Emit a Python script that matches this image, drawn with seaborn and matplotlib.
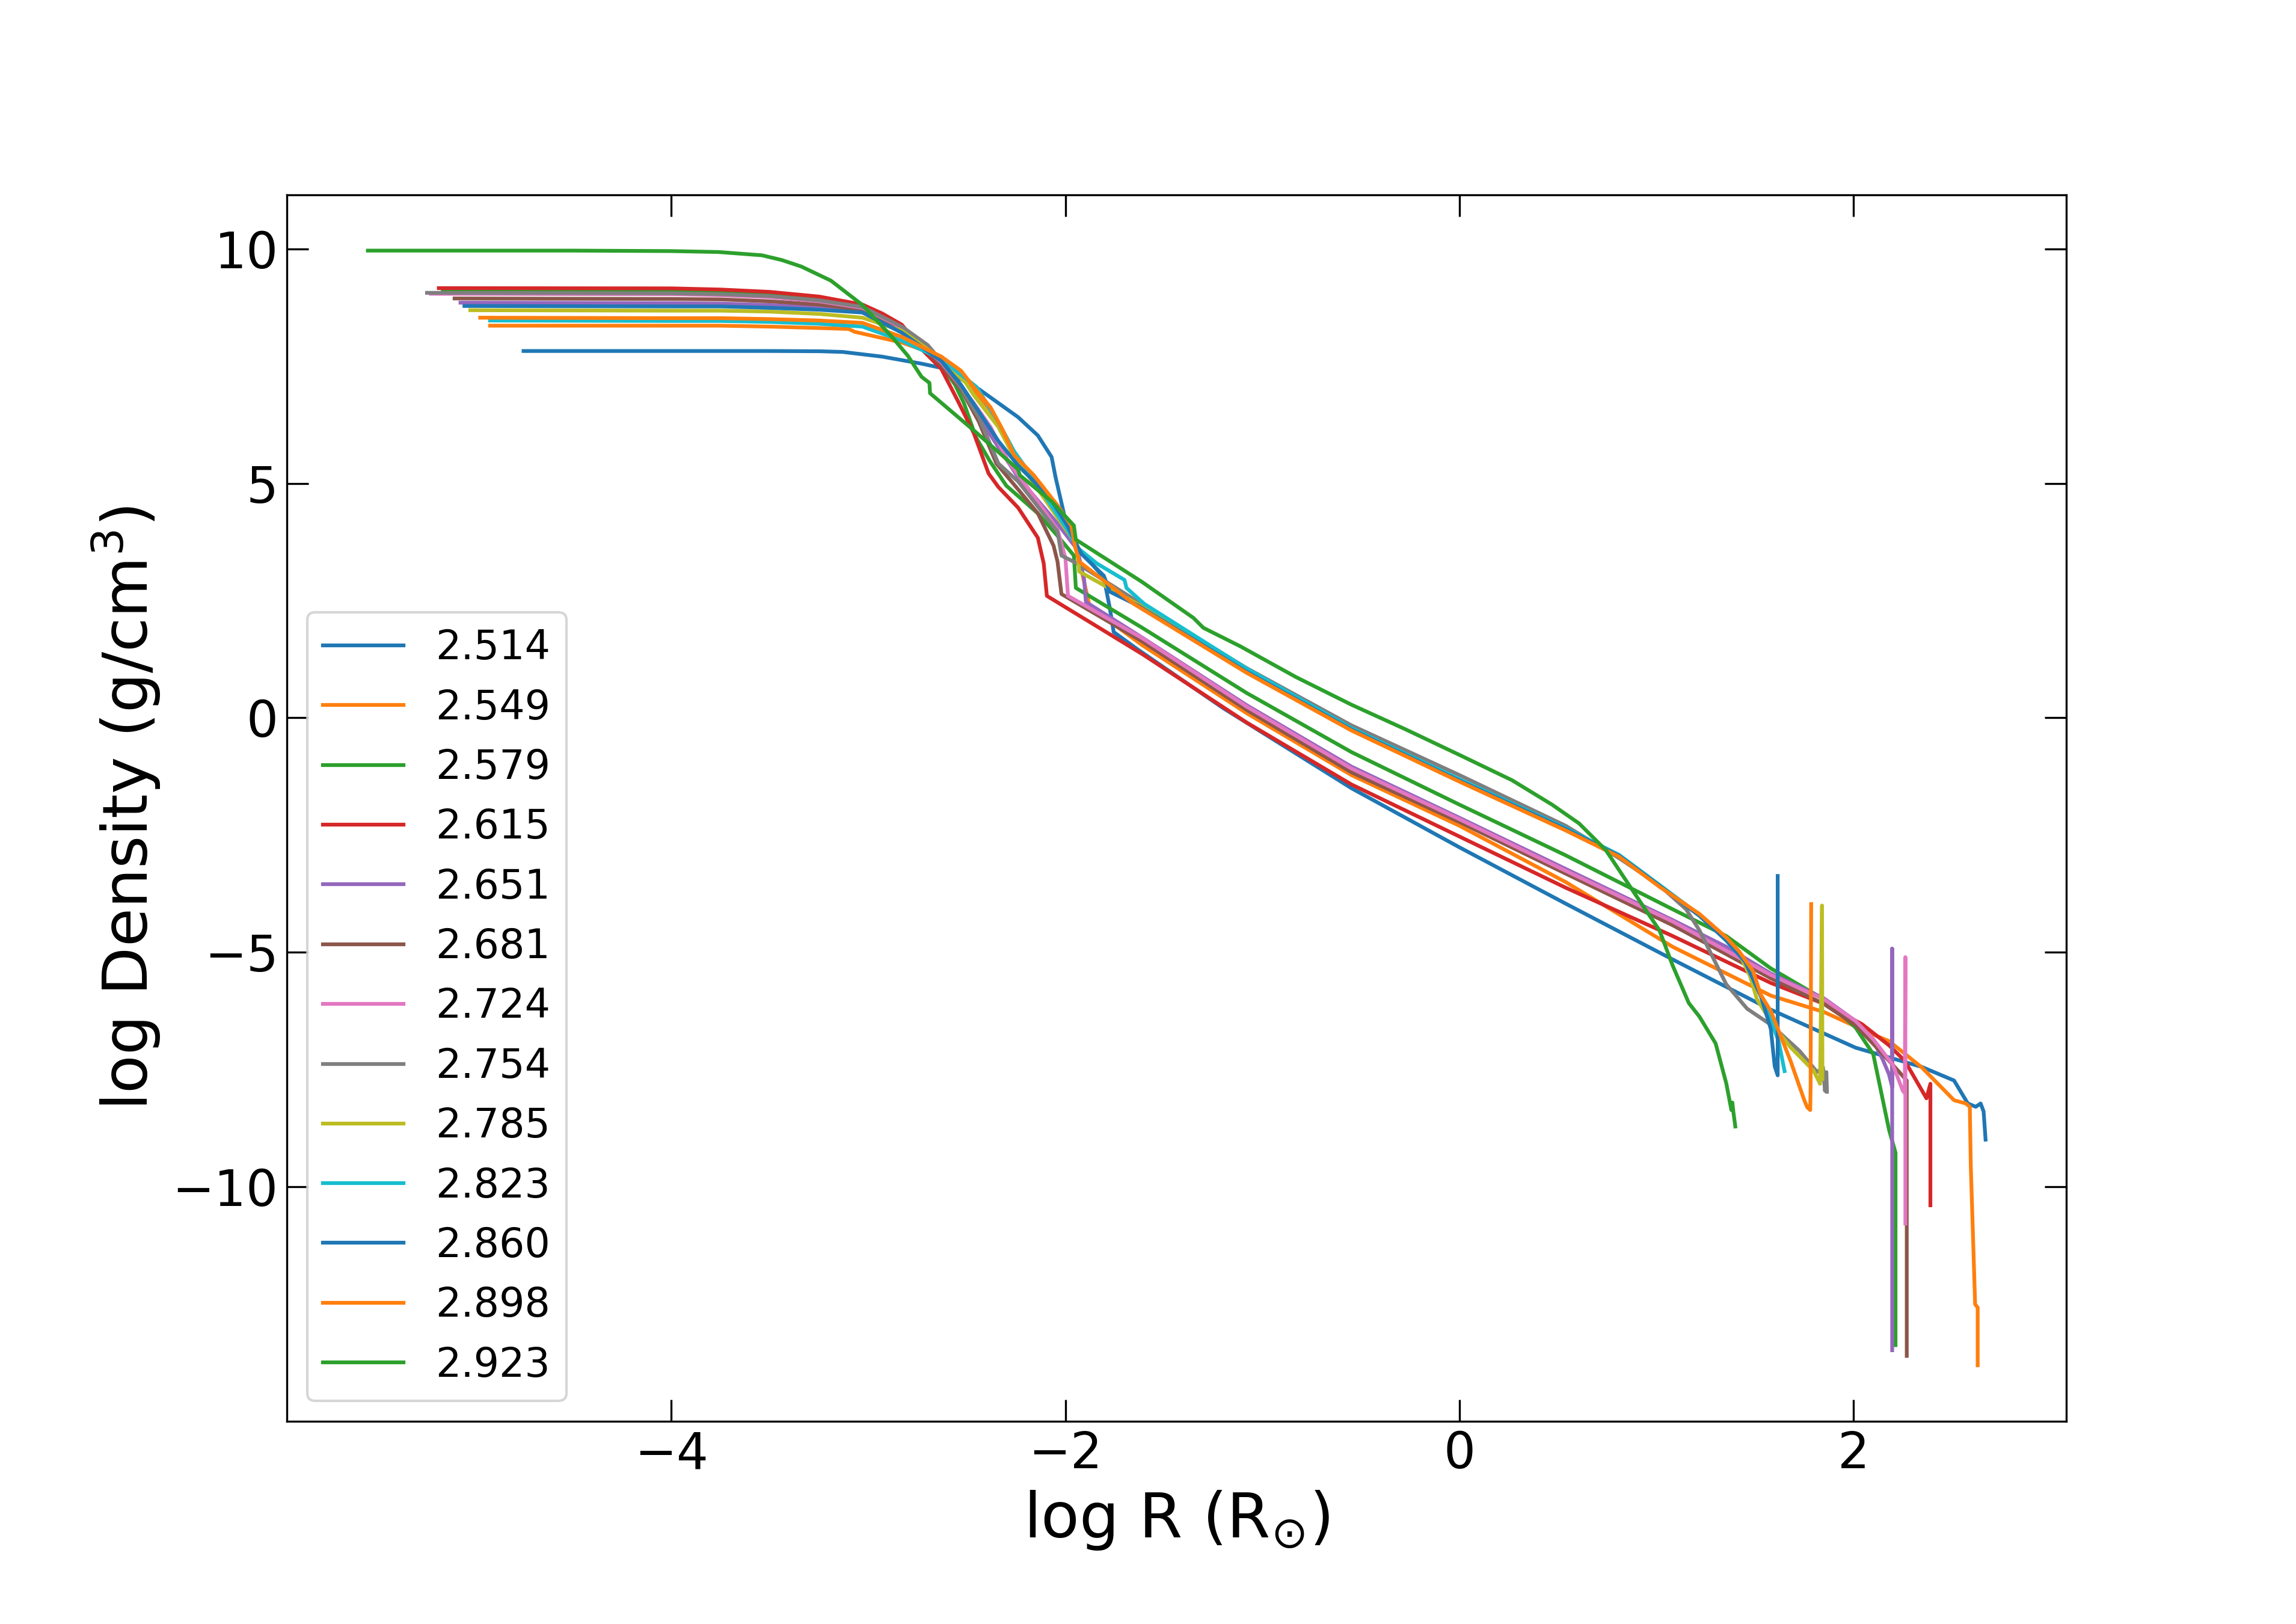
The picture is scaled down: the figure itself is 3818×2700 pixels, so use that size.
import matplotlib
matplotlib.use("Agg")
import matplotlib.pyplot as plt
import seaborn as sns

# model labels (legend)
labels = ["2.514", "2.549", "2.579", "2.615", "2.651", "2.681", "2.724",
          "2.754", "2.785", "2.823", "2.860", "2.898", "2.923"]

# log R and log rho for each model
r_2514 = [-4.75, -4.0, -3.5, -3.25, -3.13, -2.93, -2.73, -2.63, -2.44, -2.24, -2.14, -2.07, -2.05, -2.01, -1.98,
          -1.92, -1.805, -1.775, -1.755, -1.63, -1.2, -0.548, 0.0, 0.539, 1.082, 1.58, 2.01, 2.346, 2.51, 2.58,
          2.62, 2.645, 2.66, 2.67]
d_2514 = [7.82, 7.82, 7.82, 7.815, 7.80, 7.70, 7.55, 7.46, 7.01, 6.41, 6.02, 5.56, 5.13, 4.40, 3.84,
          3.54, 2.99, 2.35, 1.83, 1.45, 0.21, -1.5, -2.76, -3.96, -5.15, -6.22, -7.03, -7.44, -7.73, -8.22,
          -8.29, -8.22, -8.39, -8.99]

r_2549 = [-4.92, -4.0, -3.75, -3.5, -3.25, -3.10, -3.07, -2.83, -2.63, -2.53, -2.465, -2.38, -2.32, -2.26, -2.16,
          -2.04, -1.95, -1.877, -1.61, -1.08, -0.548, 0.0, 0.539, 1.082, 1.58, 1.85, 2.1, 2.18, 2.346, 2.51, 2.57,
          2.59, 2.595, 2.617, 2.63, 2.63]
d_2549 = [8.36, 8.36, 8.36, 8.34, 8.31, 8.29, 8.23, 8.0, 7.70, 7.35, 7.0, 6.55, 6.1, 5.55, 5.12,
          4.5, 3.75, 2.37, 1.55, 0.10, -1.22, -2.3, -3.5, -4.88, -5.92, -6.27, -6.75, -6.89, -7.45, -8.15, -8.22,
          -8.29, -9.55, -12.5, -12.57, -13.8]

r_2579 = [-5.16, -4.0, -3.75, -3.5, -3.25, -3.03, -2.83, -2.63, -2.56, -2.515, -2.454, -2.383, -2.30, -2.14,
          -2.04, -1.957, -1.947, -1.61, -1.08, -0.548, 0.0, 0.539, 1.082, 1.354, 1.58, 1.85, 2.01, 2.1, 2.18,
          2.213, 2.213]
d_2579 = [9.10, 9.09, 9.07, 9.02, 8.93, 8.76, 8.34, 7.52, 7.1, 6.71, 5.98, 5.47, 4.95, 4.36,
          3.88, 3.46, 2.77, 1.92, 0.53, -0.73, -1.85, -2.93, -4.08, -4.65, -5.34, -6.0, -6.6, -7.17, -8.78,
          -9.27, -13.37]

r_2615 = [-5.18, -4.0, -3.75, -3.5, -3.25, -3.03, -2.93, -2.83, -2.73, -2.63, -2.545, -2.465, -2.39, -2.34,
          -2.24, -2.14, -2.11, -2.094, -1.61, -1.08, -0.548, 0.0, 0.539, 1.082, 1.58, 1.853, 2.043, 2.18, 2.26,
          2.37, 2.39, 2.39]
d_2615 = [9.16, 9.155, 9.13, 9.08, 8.98, 8.81, 8.62, 8.38, 7.86, 7.44, 6.75, 6.07, 5.21, 4.92,
          4.48, 3.84, 3.29, 2.60, 1.36, -0.10, -1.42, -2.53, -3.62, -4.65, -5.65, -6.1, -6.53, -6.98, -7.31,
          -8.11, -7.80, -10.39]

r_2651 = [-5.07, -4.0, -3.75, -3.5, -3.25, -3.03, -2.83, -2.63, -2.5, -2.393, -2.24, -2.04, -1.94, -1.906,
          -1.896, -1.61, -1.08, -0.548, 0.0, 0.539, 1.082, 1.354, 1.58, 1.85, 2.01, 2.1, 2.15, 2.18, 2.196,
          2.196, 2.196]
d_2651 = [8.85, 8.84, 8.83, 8.80, 8.75, 8.68, 8.25, 7.57, 6.9, 6.11, 5.13, 4.14, 3.59, 2.99,
          2.47, 1.71, 0.27, -1.04, -2.13, -3.22, -4.31, -4.88, -5.45, -5.98, -6.46, -6.88, -7.3, -7.6, -7.87,
          -4.92, -13.48]

r_2681 = [-5.10, -4.0, -3.75, -3.5, -3.25, -3.03, -2.83, -2.63, -2.525, -2.44, -2.35, -2.24, -2.14, -2.06,
          -2.04, -2.02, -1.61, -1.08, -0.548, 0.0, 0.539, 1.082, 1.58, 1.85, 2.01, 2.1, 2.2, 2.27, 2.27]
d_2681 = [8.94, 8.93, 8.92, 8.88, 8.81, 8.70, 8.29, 7.52, 6.97, 6.32, 5.42, 4.87, 4.36, 3.67,
          3.33, 2.64, 1.63, 0.17, -1.16, -2.22, -3.32, -4.42, -5.55, -6.1, -6.55, -6.95, -7.4, -7.73, -13.6]

r_2724 = [-5.22, -4.0, -3.75, -3.5, -3.25, -3.03, -2.83, -2.63, -2.465, -2.38, -2.29, -2.14, -2.04, -2.0,
          -1.987, -1.61, -1.08, -0.548, 0.0, 0.539, 1.082, 1.58, 1.85, 2.01, 2.1, 2.2, 2.25, 2.26, 2.263, 2.263]
d_2724 = [9.04, 9.03, 9.01, 8.97, 8.88, 8.74, 8.32, 7.58, 6.71, 6.2, 5.47, 4.61, 4.01, 3.41,
          2.6, 1.70, 0.24, -1.08, -2.16, -3.26, -4.34, -5.48, -6.0, -6.46, -6.85, -7.4, -7.95, -8.0, -5.1, -10.78]

r_2754 = [-5.24, -4.0, -3.75, -3.5, -3.25, -3.03, -2.83, -2.70, -2.63, -2.545, -2.44, -2.34, -2.24, -2.04,
          -2.02, -1.94, -1.63, -1.08, -0.548, 0.0, 0.539, 0.81, 1.015, 1.15, 1.218, 1.354, 1.46, 1.58, 1.726,
          1.815, 1.845, 1.855, 1.862, 1.865]
d_2754 = [9.06, 9.05, 9.03, 8.99, 8.9, 8.76, 8.34, 7.95, 7.61, 7.14, 6.41, 5.42, 5.04, 3.97,
          3.46, 3.29, 2.47, 1.06, -0.16, -1.22, -2.3, -2.99, -3.57, -4.08, -4.53, -5.68, -6.2, -6.54, -7.1,
          -7.55, -7.45, -7.95, -7.55, -7.97]

r_2785 = [-5.02, -4.0, -3.75, -3.5, -3.25, -3.03, -2.83, -2.63, -2.505, -2.465, -2.34, -2.28, -2.04, -1.94,
          -1.93, -1.61, -1.08, -0.548, 0.0, 0.539, 0.81, 1.015, 1.218, 1.354, 1.42, 1.474, 1.51, 1.6, 1.68,
          1.797, 1.83, 1.84, 1.842]
d_2785 = [8.69, 8.68, 8.68, 8.66, 8.61, 8.53, 8.25, 7.65, 7.14, 6.88, 6.2, 5.72, 4.27, 3.67,
          3.12, 2.37, 1.0, -0.24, -1.33, -2.36, -2.93, -3.57, -4.2, -4.71, -5.03, -5.5, -6.0, -6.6, -7.02,
          -7.52, -7.8, -4.0, -7.7]

r_2823 = [-4.92, -4.0, -3.75, -3.5, -3.25, -3.03, -2.83, -2.63, -2.45, -2.34, -2.26, -2.18, -1.99, -1.94,
          -1.84, -1.70, -1.69, -1.60, -1.08, -0.548, 0.0, 0.539, 0.81, 1.015, 1.218, 1.354, 1.45, 1.55, 1.62,
          1.65]
d_2823 = [8.47, 8.46, 8.46, 8.44, 8.40, 8.34, 8.04, 7.65, 7.05, 6.3, 5.68, 5.21, 4.01, 3.63,
          3.29, 2.94, 2.77, 2.43, 1.05, -0.22, -1.31, -2.35, -2.92, -3.56, -4.2, -4.75, -5.2, -6.1, -6.9,
          -7.53]

r_2860 = [-5.05, -4.0, -3.75, -3.5, -3.25, -3.03, -2.83, -2.63, -2.53, -2.34, -2.24, -2.08, -1.99, -1.92,
          -1.805, -1.775, -1.63, -1.08, -0.548, 0.0, 0.539, 0.81, 1.015, 1.218, 1.354, 1.45, 1.53, 1.58, 1.6,
          1.615, 1.615]
d_2860 = [8.78, 8.77, 8.77, 8.74, 8.70, 8.64, 8.21, 7.61, 7.10, 5.9, 5.38, 4.70, 4.1, 3.5,
          3.03, 2.69, 2.39, 0.98, -0.25, -1.34, -2.37, -2.94, -3.58, -4.22, -4.74, -5.2, -5.94, -6.63, -7.43,
          -7.62, -3.37]

r_2898 = [-4.97, -4.0, -3.75, -3.5, -3.25, -3.03, -2.83, -2.63, -2.53, -2.465, -2.38, -2.32, -2.26, -2.16,
          -2.04, -1.97, -1.95, -1.93, -1.653, -1.08, -0.548, 0.0, 0.539, 0.81, 1.015, 1.218, 1.354, 1.42, 1.49,
          1.53, 1.58, 1.68, 1.75, 1.765, 1.78, 1.782, 1.785]
d_2898 = [8.53, 8.52, 8.52, 8.50, 8.47, 8.42, 8.12, 7.70, 7.40, 7.05, 6.62, 6.15, 5.6, 5.17,
          4.53, 4.1, 3.63, 3.33, 2.43, 0.96, -0.27, -1.36, -2.4, -2.96, -3.6, -4.18, -4.68, -4.98, -5.4,
          -5.91, -6.25, -7.31, -8.15, -8.3, -8.36, -7.87, -3.97]

r_2923 = [-5.54, -4.5, -4.0, -3.76, -3.54, -3.44, -3.34, -3.19, -3.03, -2.88, -2.80, -2.73, -2.69, -2.687,
          -2.46, -2.241, -2.231, -2.069, -1.957, -1.947, -1.612, -1.35, -1.30, -1.11, -0.83, -0.548, -0.276,
          0.0, 0.267, 0.47, 0.607, 0.743, 0.879, 1.015, 1.082, 1.164, 1.218, 1.3, 1.354, 1.38, 1.385, 1.39, 1.40]
d_2923 = [9.96, 9.96, 9.95, 9.93, 9.86, 9.76, 9.62, 9.32, 8.80, 8.12, 7.72, 7.27, 7.14, 6.92,
          6.11, 5.30, 5.17, 4.61, 4.10, 3.80, 2.90, 2.13, 1.92, 1.52, 0.87, 0.28, -0.24,
          -0.79, -1.33, -1.85, -2.25, -2.82, -3.68, -4.53, -5.28, -6.08, -6.37, -6.94, -7.79, -8.36, -8.2,
          -8.4, -8.71]

radii = [r_2514, r_2549, r_2579, r_2615, r_2651, r_2681, r_2724,
         r_2754, r_2785, r_2823, r_2860, r_2898, r_2923]
dens = [d_2514, d_2549, d_2579, d_2615, d_2651, d_2681, d_2724,
        d_2754, d_2785, d_2823, d_2860, d_2898, d_2923]

plt.rcParams["font.size"] = 20
plt.rcParams["xtick.direction"] = "in"
plt.rcParams["ytick.direction"] = "in"
plt.rcParams["xtick.top"] = True
plt.rcParams["ytick.right"] = True
plt.rcParams["xtick.major.size"] = 8.6
plt.rcParams["ytick.major.size"] = 8.6

colors = sns.color_palette("tab10", 10)

fig, ax = plt.subplots(figsize=(12.727, 9.0))
fig.subplots_adjust(left=0.125, right=0.9, top=0.88, bottom=0.125)

for i in range(len(labels)):
    sns.lineplot(x=radii[i], y=dens[i], sort=False, estimator=None, errorbar=None,
                 color=colors[i % 10], linewidth=1.5, label=labels[i], ax=ax)

ax.set_xlabel(r"log R (R$_{\odot}$)", fontsize=25)
ax.set_ylabel(r"log Density (g/cm$^3$)", fontsize=25)
ax.legend(loc="lower left", fontsize=16)

plt.savefig("out.png", dpi=300)
